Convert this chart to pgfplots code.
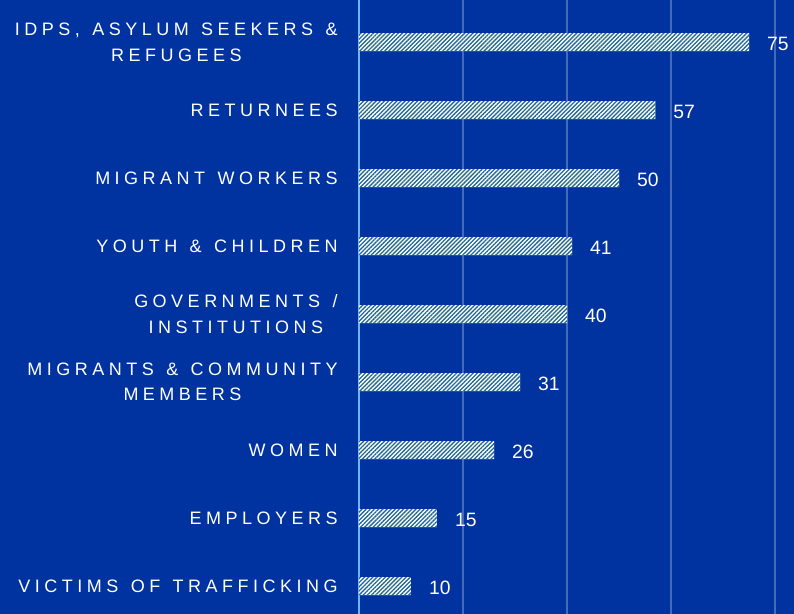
\documentclass[border=0pt]{standalone}
\usepackage{pgfplots}
\pgfplotsset{compat=1.18}
\usepackage{fontspec}
\setmainfont{Liberation Sans}
\newfontfamily\catfont[LetterSpace=25,WordSpace=1.3]{Liberation Sans}
\usetikzlibrary{patterns.meta}
\definecolor{bgblue}{RGB}{0,51,160}
\definecolor{stripe}{RGB}{35,105,145}
\definecolor{gridc}{RGB}{70,105,185}
\definecolor{zeroline}{RGB}{110,180,250}
\begin{document}
\begin{tikzpicture}
\fill[bgblue] (-269.25pt,0) rectangle (326.25pt,460.5pt);
\begin{axis}[
 at={(0,0)}, anchor=south west,
 scale only axis, width=326.25pt, height=460.5pt,
 xbar, bar width=13.5pt,
 xmin=0, xmax=83.65, ymin=-0.41, ymax=8.62,
 axis line style={draw=none},
 /pgf/number format/assume math mode=true,
 xtick={20,40,60,80}, xticklabels={}, xmajorgrids,
 grid style={gridc, line width=0.8pt},
 extra x ticks={0}, extra x tick labels={},
 extra x tick style={grid style={zeroline, line width=0.8pt}},
 major tick length=0,
 ytick={0,...,8},
 yticklabels={{VICTIMS OF TRAFFICKING},{EMPLOYERS},{WOMEN},{MIGRANTS \& COMMUNITY\\MEMBERS},{GOVERNMENTS /\\INSTITUTIONS},{YOUTH \& CHILDREN},{MIGRANT WORKERS},{RETURNEES},{IDPS, ASYLUM SEEKERS \&\\REFUGEES}},
 yticklabel style={font=\catfont\fontsize{13.5}{19}\selectfont, text=white, align=center, xshift=-12.5pt},
 nodes near coords,
 nodes near coords style={font=\fontsize{14.5}{16}\selectfont, text=white, xshift=10pt, yshift=-1pt},
]
\addplot[draw=none, fill=white, postaction={pattern={Lines[angle=45,distance=2.2pt,line width=1pt]}, pattern color=stripe}] coordinates {(10,0) (15,1) (26,2) (31,3) (40,4) (41,5) (50,6) (57,7) (75,8)};
\end{axis}
\pgfresetboundingbox
\path[use as bounding box] (-269.25pt,0) rectangle (326.25pt,460.5pt);
\end{tikzpicture}
\end{document}
